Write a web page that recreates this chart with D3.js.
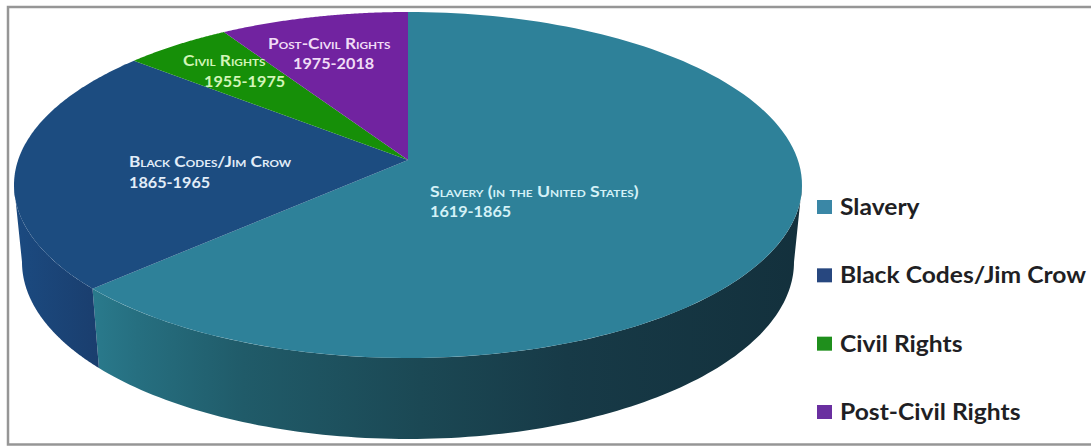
<!DOCTYPE html>
<html>
<head>
<meta charset="utf-8">
<script src="https://cdn.jsdelivr.net/npm/d3@7"></script>
<style>
  html, body { margin: 0; padding: 0; background: #fff; overflow: hidden; }
  svg { display: block; }
  text { font-family: Lato, "Open Sans", sans-serif; font-weight: 700; }
</style>
</head>
<body>
<svg id="chart" width="1091" height="446"></svg>
<script>
// Share of the timeline per era, clockwise from twelve o'clock.
const categories = ["Slavery", "Black Codes/Jim Crow", "Civil Rights", "Post-Civil Rights"];
const shares = [61.4, 22.8, 5.6, 10.2];
const sliceColors = ["#2e8199", "#1c4c80", "#168f08", "#7123a0"];
const legendColors = ["#3a87a6", "#27477f", "#1f8f1c", "#6a2fa0"];
const labelTitles = ["Slavery (in the United States)", "Black Codes/Jim Crow", "Civil Rights", "Post-Civil Rights"];
const labelYears = ["1619-1865", "1865-1965", "1955-1975", "1975-2018"];
const labelColors = ["#d4f1f7", "#e2edf8", "#d2f5b8", "#f0dcf6"];
const labelSpots = [[430, 197, 217], [129, 167, 188], [183, 66, 87], [268, 49, 69]];
const yearOffsets = [0, 0, 21, 25];
const titleStretch = [1.18, 1.15, 1.15, 1.15];

const svg = d3.select("#chart");
const defs = svg.append("defs");

// Rim of the tilted disc and of its smaller, lower base.
const rim = { cx: 408, cy: 185, rx: 394, ry: 173 };
const base = { cx: 408, cy: 262, rx: 386, ry: 177 };
const apexShift = 25 / 173;
const squeeze = (1 - apexShift) / (1 + apexShift);
const apex = [rim.cx, rim.cy - apexShift * rim.ry];

// Perspective: the pie angle becomes a position on the rim ellipse.
const rimParam = a => 2 * Math.atan2(squeeze * Math.sin(a / 2), Math.cos(a / 2));
const rimAngle = t => 2 * Math.atan2(Math.sin(t / 2) / squeeze, Math.cos(t / 2));
const rimPoint = (e, t) => [e.cx + e.rx * Math.sin(t), e.cy - e.ry * Math.cos(t)];
const sampled = (a0, a1) => d3.range(0, 121).map(i => rimParam(a0 + (a1 - a0) * i / 120));

const arcs = d3.pie().sort(null).value(d => d)(shares);
const line = d3.line();

// Outer wall gradients, darkening towards the right.
const wallGrad = (id, stops) => {
  const g = defs.append("linearGradient").attr("id", id)
    .attr("gradientUnits", "userSpaceOnUse")
    .attr("x1", 0).attr("x2", 810).attr("y1", 0).attr("y2", 0);
  stops.forEach(([o, c]) => g.append("stop").attr("offset", o).attr("stop-color", c));
};
wallGrad("wall0", [[0.11, "#2a7b8d"], [0.17, "#266f80"], [0.3, "#205b69"], [0.52, "#1b4854"], [0.7, "#173a47"], [1, "#13303c"]]);
wallGrad("wall1", [[0.02, "#1b4a80"], [0.12, "#1a3e6e"]]);

const visibleFrom = rimAngle(Math.PI / 2);
const visibleTo = rimAngle(3 * Math.PI / 2);

svg.append("g").selectAll("path")
  .data(arcs.slice(0, 2))
  .join("path")
  .attr("fill", (d, i) => `url(#wall${i})`)
  .attr("d", d => {
    const ts = sampled(Math.max(d.startAngle, visibleFrom), Math.min(d.endAngle, visibleTo));
    const outline = ts.map(t => rimPoint(rim, t))
      .concat(ts.slice().reverse().map(t => rimPoint(base, t)));
    return line(outline) + "Z";
  });

svg.append("g").selectAll("path")
  .data(arcs)
  .join("path")
  .attr("fill", (d, i) => sliceColors[i])
  .attr("d", d => line([apex].concat(sampled(d.startAngle, d.endAngle).map(t => rimPoint(rim, t)))) + "Z");

// Two-line slice captions, set a little wide.
const captions = svg.append("g").selectAll("g")
  .data(categories)
  .join("g")
  .attr("fill", (d, i) => labelColors[i]);
captions.append("text")
  .attr("transform", (d, i) => `translate(${labelSpots[i][0]},${labelSpots[i][1]}) scale(${titleStretch[i]},1)`)
  .attr("font-size", 15)
  .style("font-variant", "small-caps")
  .text((d, i) => labelTitles[i]);
captions.append("text")
  .attr("transform", (d, i) => `translate(${labelSpots[i][0] + yearOffsets[i]},${labelSpots[i][2]}) scale(1.08,1)`)
  .attr("font-size", 15)
  .text((d, i) => labelYears[i]);

// Legend column.
const legendY = d3.scalePoint().domain(categories).range([214, 419]);
const legend = svg.append("g").selectAll("g")
  .data(categories)
  .join("g")
  .attr("transform", d => `translate(0,${legendY(d)})`);
legend.append("rect")
  .attr("x", 817).attr("y", -14).attr("width", 15).attr("height", 14)
  .attr("fill", (d, i) => legendColors[i]);
legend.append("text")
  .attr("transform", "translate(840,1) scale(1.12,1)")
  .attr("font-size", 22)
  .attr("fill", "#1f1f24")
  .text(d => d);

// Frame around the chart, running off the right edge.
svg.append("rect")
  .attr("x", 8).attr("y", 7).attr("width", 1090).attr("height", 437.5)
  .attr("fill", "none").attr("stroke", "#969696").attr("stroke-width", 2.5);
</script>
</body>
</html>
